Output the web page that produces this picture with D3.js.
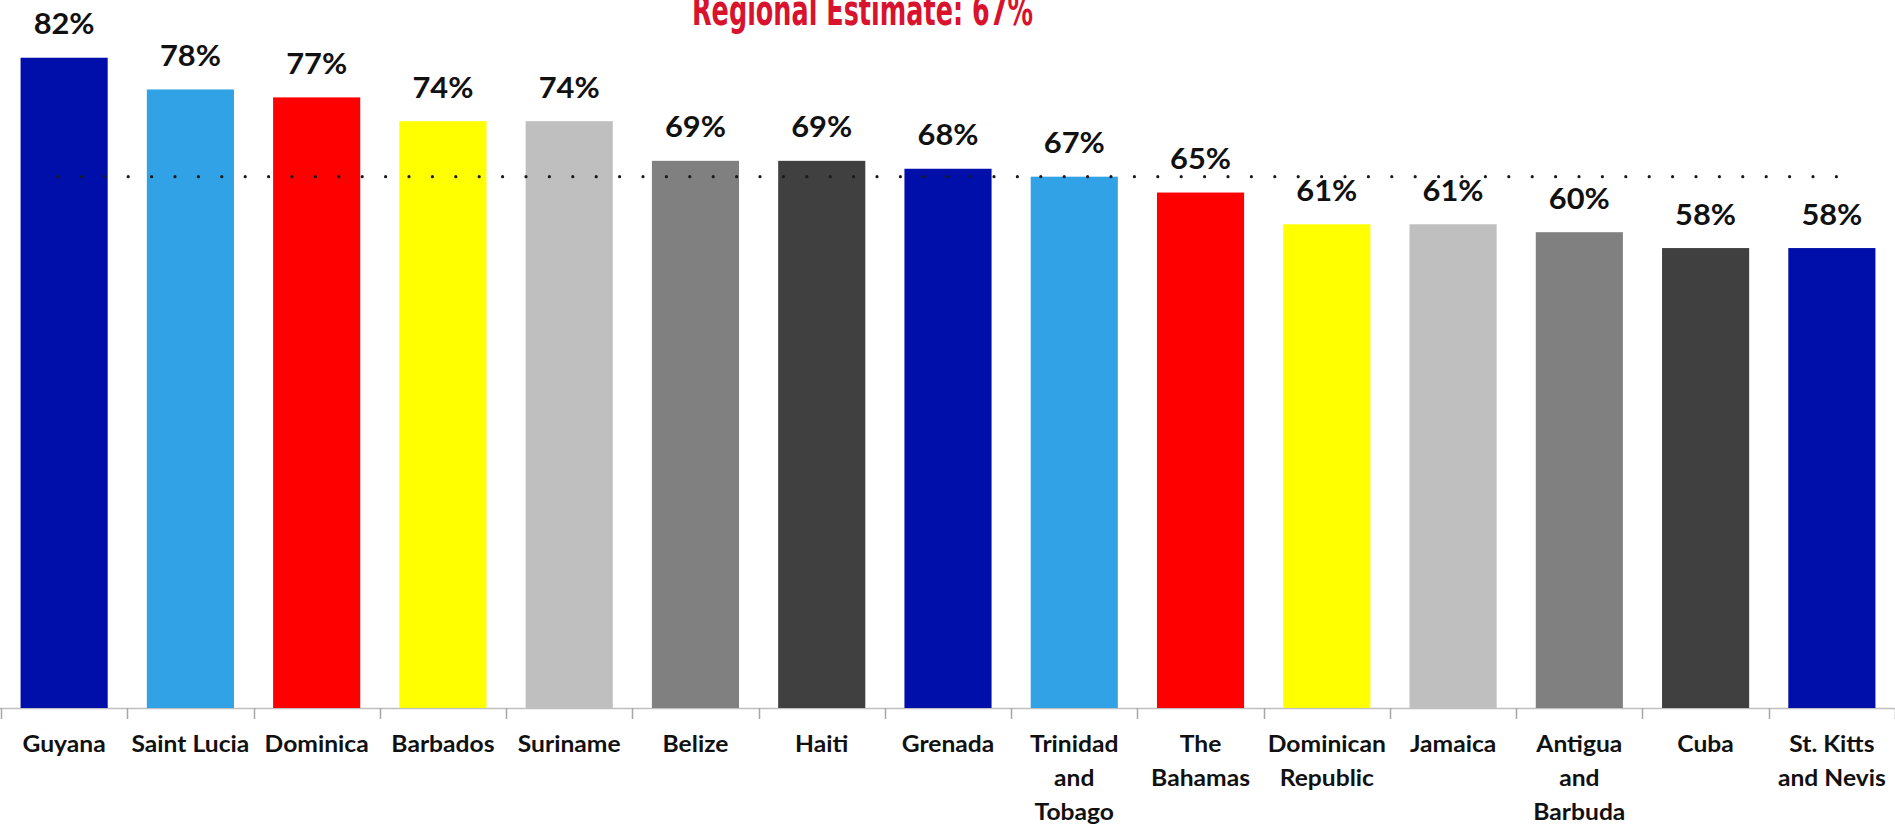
<!DOCTYPE html>
<html>
<head>
<meta charset="utf-8">
<script src="https://cdn.jsdelivr.net/npm/d3@7"></script>
<style>
  html, body { margin: 0; padding: 0; background: #ffffff; }
  svg { display: block; }
</style>
</head>
<body>
<svg id="chart" width="1895" height="827"></svg>
<script>
// Share of respondents by country, with the regional estimate
const categories = ["Guyana", "Saint Lucia", "Dominica", "Barbados", "Suriname", "Belize", "Haiti",
  "Grenada", "Trinidad and Tobago", "The Bahamas", "Dominican Republic", "Jamaica",
  "Antigua and Barbuda", "Cuba", "St. Kitts and Nevis"];
const values = [82, 78, 77, 74, 74, 69, 69, 68, 67, 65, 61, 61, 60, 58, 58];
const tickLabels = [["Guyana"], ["Saint Lucia"], ["Dominica"], ["Barbados"], ["Suriname"], ["Belize"],
  ["Haiti"], ["Grenada"], ["Trinidad", "and", "Tobago"], ["The", "Bahamas"], ["Dominican", "Republic"],
  ["Jamaica"], ["Antigua", "and", "Barbuda"], ["Cuba"], ["St. Kitts", "and Nevis"]];
const palette = ["#000FAA", "#31A2E6", "#FF0000", "#FFFF00", "#BFBFBF", "#808080", "#404040"];
const regionalEstimate = 67;
const titleText = "Regional Estimate: 67%";

const svg = d3.select("#chart");
const W = 1895, baseY = 708;

const x = d3.scaleBand().domain(categories).range([1, W]).paddingInner(0.31).paddingOuter(0.155);
const y = d3.scaleLinear().domain([0, 100]).range([baseY, baseY - 793]);
const color = d3.scaleOrdinal().domain(categories).range(palette);

// Title, running off the top edge
svg.append("text")
  .attr("x", 692).attr("y", 25)
  .attr("textLength", 341).attr("lengthAdjust", "spacingAndGlyphs")
  .style("font-family", "'Liberation Sans Narrow', 'DejaVu Sans Condensed', 'Liberation Sans', sans-serif")
  .style("font-weight", 700)
  .style("font-size", "43px")
  .style("fill", "#D7132D")
  .text(titleText);

// Category axis
const axisG = svg.append("g");
axisG.append("line")
  .attr("x1", 0).attr("x2", W).attr("y1", baseY + 0.5).attr("y2", baseY + 0.5)
  .attr("stroke", "#BFBFBF").attr("stroke-width", 1.5);
const bounds = categories.map(c => x(c) - x.step() * x.paddingInner() / 2);
bounds.push(bounds[bounds.length - 1] + x.step());
axisG.selectAll("line.tick").data(bounds).join("line")
  .attr("class", "tick")
  .attr("x1", d => Math.round(d) + 0.5).attr("x2", d => Math.round(d) + 0.5)
  .attr("y1", baseY).attr("y2", baseY + 11)
  .attr("stroke", "#A6A6A6").attr("stroke-width", 1.5);

// Bars
svg.append("g").selectAll("rect").data(categories).join("rect")
  .attr("x", d => x(d))
  .attr("width", x.bandwidth())
  .attr("y", (d, i) => y(values[i]))
  .attr("height", (d, i) => y(0) - y(values[i]))
  .attr("fill", d => color(d));

// Regional estimate reference line
svg.append("line")
  .attr("x1", 58).attr("x2", 1845)
  .attr("y1", y(regionalEstimate)).attr("y2", y(regionalEstimate))
  .attr("stroke", "#1a1a1a").attr("stroke-width", 3.2)
  .attr("stroke-linecap", "round")
  .attr("stroke-dasharray", "0,23.4");

// Value labels
svg.append("g").selectAll("g").data(categories).join("g")
  .attr("transform", (d, i) => `translate(${x(d) + x.bandwidth() / 2},${y(values[i]) - 23.5}) scale(1.1,1)`)
  .append("text")
  .attr("text-anchor", "middle")
  .style("font-family", "Lato, 'Open Sans', sans-serif")
  .style("font-weight", 700)
  .style("font-size", "28px")
  .style("fill", "#111111")
  .text((d, i) => values[i] + "%");

// Category labels
const lab = svg.append("g").selectAll("g").data(categories).join("g")
  .attr("transform", d => `translate(${x(d) + x.bandwidth() / 2},752) scale(1.12,1)`);
lab.append("text")
  .attr("text-anchor", "middle")
  .style("font-family", "Lato, 'Open Sans', sans-serif")
  .style("font-weight", 700)
  .style("font-size", "22px")
  .style("fill", "#111111")
  .selectAll("tspan").data((d, i) => tickLabels[i]).join("tspan")
  .attr("x", 0)
  .attr("dy", (d, j) => j === 0 ? 0 : 34)
  .text(d => d);
</script>
</body>
</html>
